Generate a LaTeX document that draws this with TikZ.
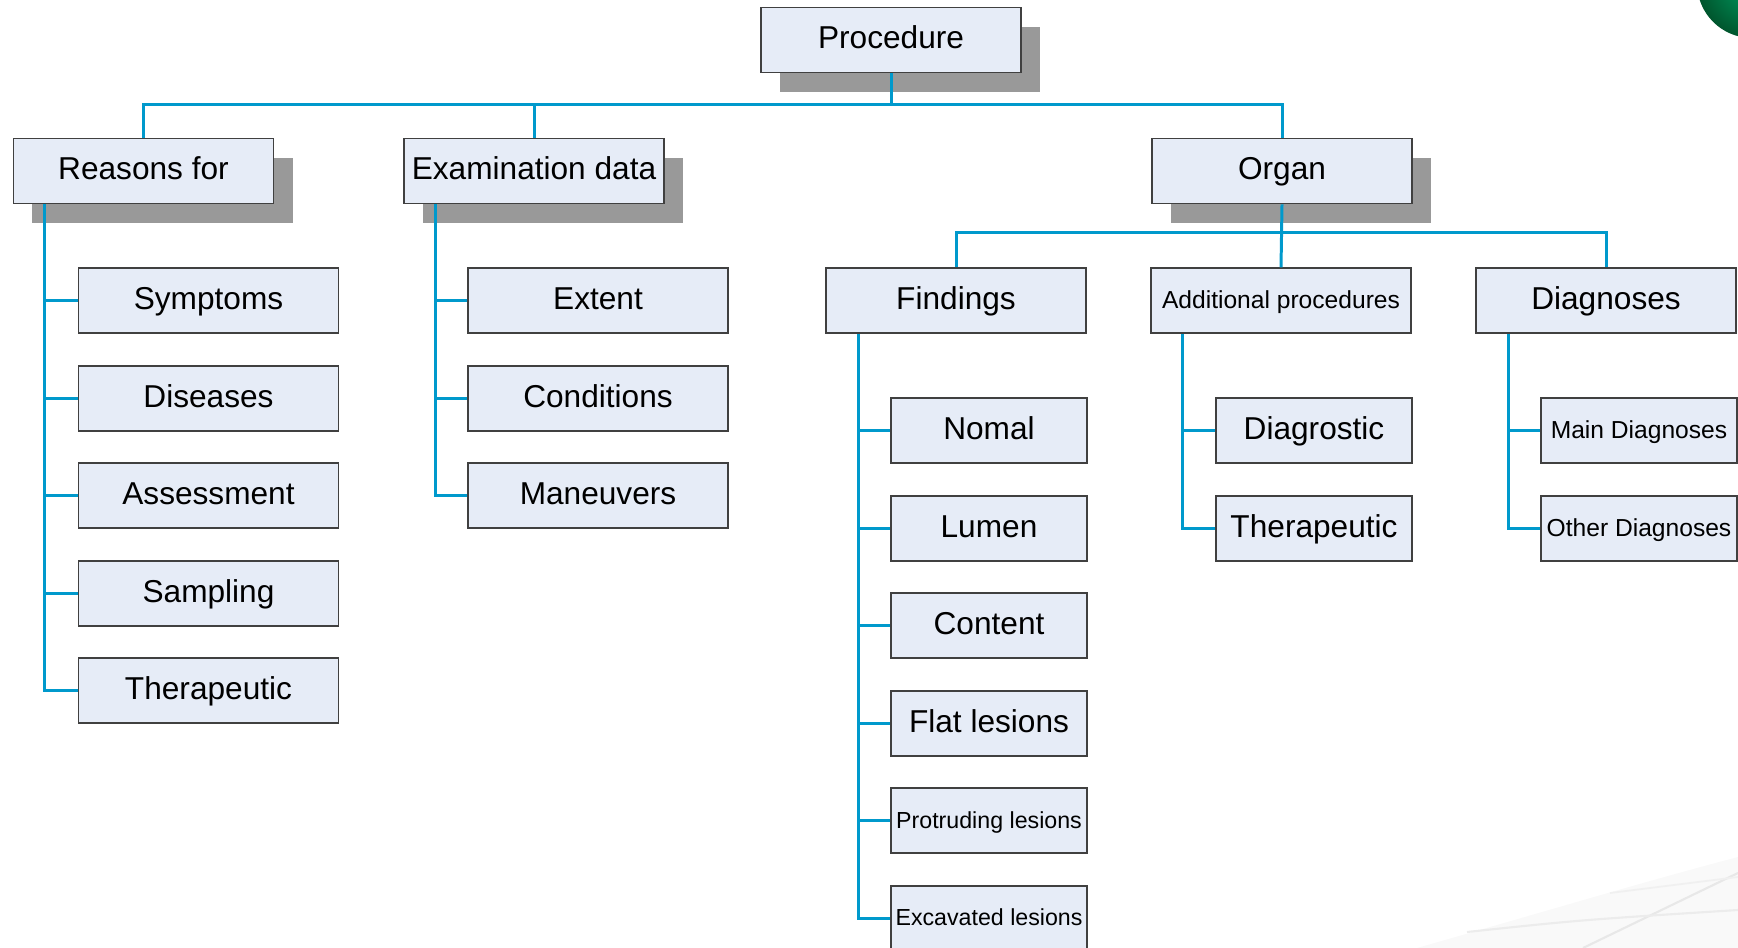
\documentclass[tikz,border=0pt]{standalone}
\usepackage{fontspec}
\setmainfont{Liberation Sans}
\usepackage{tikz}
\usetikzlibrary{shadows}
\definecolor{LinkBlue}{RGB}{0,153,204}
\definecolor{BoxFill}{RGB}{230,236,247}
\definecolor{ShadowGray}{RGB}{153,153,153}
\definecolor{BallLight}{RGB}{0,160,100}
\definecolor{BallDark}{RGB}{0,85,45}

\begin{document}
\begin{tikzpicture}[
    box/.style={draw=black!75, line width=0.5pt, fill=BoxFill, inner sep=0pt,
      minimum width=2.6cm, minimum height=0.65cm, text height=0.18cm, text depth=0pt,
      font=\fontsize{9}{11}\selectfont},
    smallbox/.style={box, minimum width=1.96cm},
    normal/.style={},
    small/.style={font=\fontsize{7}{9}\selectfont, text height=0.155cm},
    tiny/.style={font=\fontsize{6.6}{8}\selectfont, text height=0.145cm},
    topbox/.style={box, drop shadow={shadow xshift=0.19cm, shadow yshift=-0.2cm,
      fill=ShadowGray, opacity=1}},
    link/.style={LinkBlue, line width=0.85pt}
  ]
    \clip (0,0) rectangle (17.38,-9.48);

    % Slide background
    \fill[gray!5] (14.17,-9.48) .. controls (15.5,-9.1) and (16.5,-8.8) .. (17.38,-8.57) -- (17.38,-9.48) -- cycle;
    \draw[gray!18, line width=0.6pt] (15.83,-9.48) -- (17.38,-8.73);
    \draw[gray!15, line width=0.6pt] (14.67,-9.32) .. controls (15.8,-9.2) .. (17.38,-9.10);
    \draw[gray!12, line width=0.5pt] (16.1,-8.93) -- (17.38,-8.77);
    \shade[inner color=BallLight, outer color=BallDark] (17.52,0.17) circle (0.55);

    % Top level
    \node[topbox] (proc) at (8.91,-0.40) {Procedure};
    \node[topbox] (rsn) at (1.435,-1.71) {Reasons for};
    \node[topbox] (exm) at (5.34,-1.71) {Examination data};
    \node[topbox] (org) at (12.82,-1.71) {Organ};
    \coordinate (bus) at (0,-1.05);
    \draw[link] (rsn.north) |- (proc.south |- bus) -| (org.north);
    \draw[link] (proc.south) -- (proc.south |- bus);
    \draw[link] (exm.north) -- (exm.north |- bus);

    % Reasons for
    \foreach \name/\txt [count=\i] in {sym/Symptoms, dis/Diseases, ass/Assessment, smp/Sampling, rth/Therapeutic} {
      \node[box] (\name) at (2.085,{-3.008-0.975*(\i-1)}) {\txt};
      \draw[link] ([xshift=0.32cm]rsn.south west) |- (\name.west);
    }

    % Examination data
    \foreach \name/\txt [count=\i] in {ext/Extent, cnd/Conditions, man/Maneuvers} {
      \node[box] (\name) at (5.98,{-3.008-0.975*(\i-1)}) {\txt};
      \draw[link] ([xshift=0.32cm]exm.south west) |- (\name.west);
    }

    % Organ
    \node[box] (fnd) at (9.56,-3.008) {Findings};
    \node[box, small] (add) at (12.81,-3.008) {Additional procedures};
    \node[box] (dgn) at (16.06,-3.008) {Diagnoses};
    \coordinate (obus) at (0,-2.33);
    \draw[link] (fnd.north) |- (org.south |- obus) -| (dgn.north);
    \draw[link] (org.south) -- (add.north);

    % Findings
    \foreach \name/\txt/\sz [count=\i] in {nml/Nomal/normal, lum/Lumen/normal, cnt/Content/normal,
        flt/Flat lesions/normal, pro/Protruding lesions/tiny, exc/Excavated lesions/tiny} {
      \node[smallbox, \sz] (\name) at (9.89,{-4.308-0.975*(\i-1)}) {\txt};
      \draw[link] ([xshift=0.33cm]fnd.south west) |- (\name.west);
    }

    % Additional procedures
    \foreach \name/\txt [count=\i] in {dia/Diagrostic, ath/Therapeutic} {
      \node[smallbox] (\name) at (13.14,{-4.308-0.975*(\i-1)}) {\txt};
      \draw[link] ([xshift=0.32cm]add.south west) |- (\name.west);
    }

    % Diagnoses
    \foreach \name/\txt [count=\i] in {mdg/Main Diagnoses, odg/Other Diagnoses} {
      \node[smallbox, small] (\name) at (16.39,{-4.308-0.975*(\i-1)}) {\txt};
      \draw[link] ([xshift=0.33cm]dgn.south west) |- (\name.west);
    }
  \end{tikzpicture}
\end{document}
